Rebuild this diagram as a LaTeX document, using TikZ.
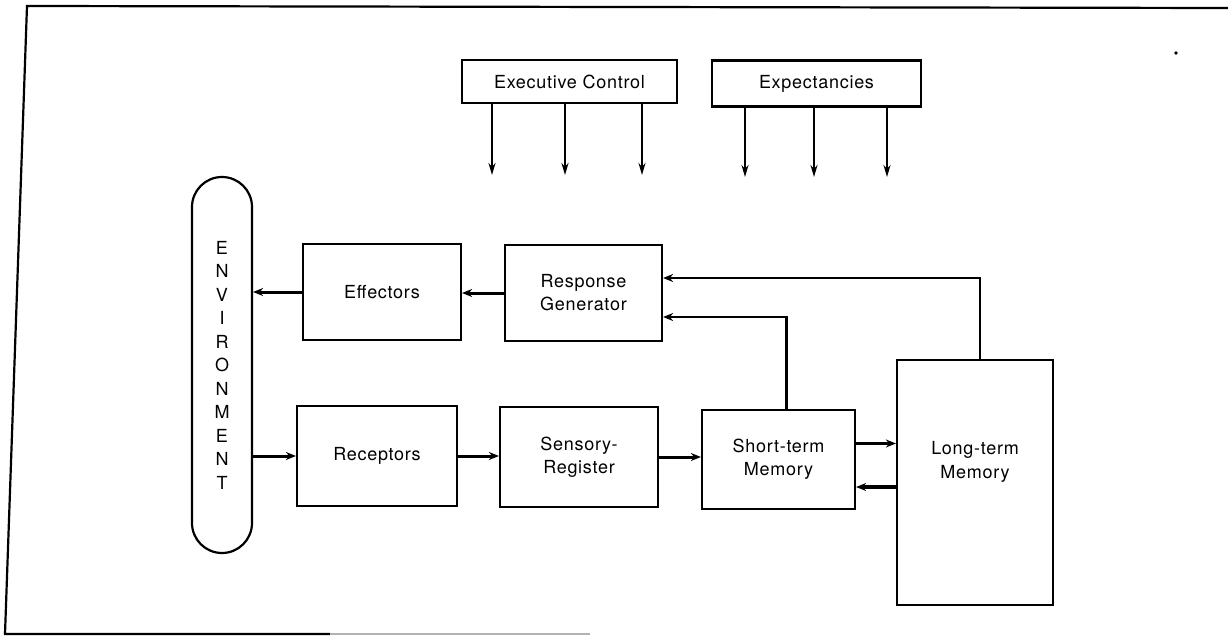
\documentclass[tikz,border=0pt]{standalone}
\usepackage{fontspec}
\setmainfont{TeX Gyre Heros}[LetterSpace=4]
\usetikzlibrary{arrows.meta,positioning,calc}
\tikzset{block/.style={draw,line width=2.2pt,align=center,font=\fontsize{18}{23}\selectfont,inner sep=0pt},arr/.style={-{Stealth[length=10pt,width=8pt]},line width=3pt}}

\begin{document}
\begin{tikzpicture}[x=1pt,y=-1pt,down/.style={-{Stealth[length=12pt,width=7pt]},line width=2.2pt}]
\useasboundingbox (0,0) rectangle (1228,636);
\draw[line width=2.2pt] (1228,8) -- (27,6) -- (5,634) -- (330,634);
\draw[line width=2.2pt,gray!60] (330,634) -- (590,634);
\fill (1176,53) circle (1.8pt);
\node[block,rounded corners=30pt,minimum width=60pt,minimum height=376pt,font=\fontsize{18}{23.5}\selectfont] (env) at (222,365) {E\\N\\V\\I\\R\\O\\N\\M\\E\\N\\T};
\node[block,minimum width=215pt,minimum height=43pt] (exec) at (569.5,81.5) {Executive Control};
\node[block,minimum width=209pt,minimum height=46pt] (expc) at (816.5,83.5) {Expectancies};
\node[block,minimum width=158pt,minimum height=96pt] (eff) at (382,292) {Effectors};
\node[block,minimum width=157pt,minimum height=96pt] (resp) at (583.5,293) {Response\\Generator};
\node[block,minimum width=160pt,minimum height=100pt] (rec) at (377,456) {Receptors};
\node[block,minimum width=158pt,minimum height=100pt] (sens) at (579,457) {Sensory-\\Register};
\node[block,minimum width=153pt,minimum height=99pt] (stm) at (778.5,459.5) {Short-term\\Memory};
\node[block,minimum width=156pt,minimum height=245pt,label={[align=center,font=\fontsize{18}{24}\selectfont,yshift=21pt]center:Long-term\\Memory}] (ltm) at (975,482.5) {};
\foreach \x [count=\i] in {492,565,642} {\coordinate (ec\i) at (\x,175); \draw[down] (ec\i |- exec.south) -- (ec\i);}
\foreach \x [count=\i] in {745,814,887} {\coordinate (ex\i) at (\x,177); \draw[down] (ex\i |- expc.south) -- (ex\i);}
\draw[arr] (eff.west) -- (env.east |- eff.west);
\draw[arr] (resp.west) -- (resp.west -| eff.east);
\draw[arr] (env.east |- rec.west) -- (rec.west);
\draw[arr] (rec.east) -- (rec.east -| sens.west);
\draw[arr] (sens.east) -- (sens.east -| stm.west);
\coordinate (s1) at ([yshift=16pt]stm.east);
\coordinate (s2) at ([yshift=-27.5pt]stm.east);
\draw[arr,line width=3.6pt] (s1) -- (s1 -| ltm.west);
\draw[arr,line width=3.6pt] (s2 -| ltm.west) -- (s2);
\draw[arr,line width=2.6pt] ([xshift=5pt]ltm.north) |- ([yshift=15pt]resp.east);
\draw[arr,line width=2.6pt] ([xshift=8pt]stm.north) |- ([yshift=-24pt]resp.east);
\end{tikzpicture}
\end{document}
